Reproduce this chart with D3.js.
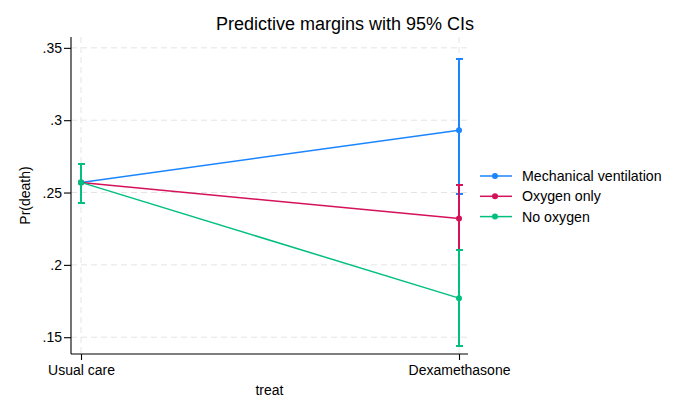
<!DOCTYPE html>
<html>
<head>
<meta charset="utf-8">
<script src="https://cdn.jsdelivr.net/npm/d3@7"></script>
<style>
  body { margin: 0; background: #fff; }
  text { font-family: "Liberation Sans", Arial, sans-serif; fill: #000; }
</style>
</head>
<body>
<div id="chart"></div>
<script>
// categories on the x axis
var treatments = ["Usual care", "Dexamethasone"];
var seriesNames = ["Mechanical ventilation", "Oxygen only", "No oxygen"];
var seriesColors = ["#1a85ff", "#d41159", "#00bf7f"];
// margins and 95% CIs, one row per series, one value per treatment
var margins = [[0.257, 0.293], [0.257, 0.232], [0.257, 0.177]];
var lower   = [[0.243, 0.249], [0.243, 0.210], [0.243, 0.144]];
var upper   = [[0.270, 0.342], [0.270, 0.255], [0.270, 0.210]];
var yTicks = [0.15, 0.2, 0.25, 0.3, 0.35];
var yTickLabels = [".15", ".2", ".25", ".3", ".35"];

var W = 690, H = 415;
var margin = {top: 37, right: 222, bottom: 61, left: 71},
    width = W - margin.left - margin.right,
    height = H - margin.top - margin.bottom;

var svg = d3.select("#chart").append("svg")
  .attr("width", W)
  .attr("height", H);

var g = svg.append("g")
  .attr("transform", "translate(" + margin.left + "," + margin.top + ")");

var x = d3.scalePoint()
  .domain(treatments)
  .range([10, width - 9]);

var y = d3.scaleLinear()
  .domain([0.1384, 0.3575])
  .range([height, 0]);

// grid
g.append("g").selectAll("line")
  .data(yTicks).enter().append("line")
  .attr("x1", 0).attr("x2", width)
  .attr("y1", function(d) { return y(d); })
  .attr("y2", function(d) { return y(d); })
  .attr("stroke", "#e4e4e4").attr("stroke-dasharray", "6,4");
g.append("g").selectAll("line")
  .data(treatments).enter().append("line")
  .attr("y1", 0).attr("y2", height)
  .attr("x1", function(d) { return x(d); })
  .attr("x2", function(d) { return x(d); })
  .attr("stroke", "#e4e4e4").attr("stroke-dasharray", "6,4");

// axes
var yAxis = d3.axisLeft(y).tickValues(yTicks)
  .tickFormat(function(d, i) { return yTickLabels[i]; })
  .tickSize(7).tickPadding(2);
var ya = g.append("g").call(yAxis);
ya.select(".domain").attr("d", "M0,0V" + height);
ya.selectAll("text").style("font-size", "14px");

var xAxis = d3.axisBottom(x).tickSize(6).tickPadding(5);
var xa = g.append("g").attr("transform", "translate(0," + height + ")").call(xAxis);
xa.select(".domain").attr("d", "M0,0H" + width);
xa.selectAll("text").style("font-size", "14px");

g.selectAll(".domain, .tick line").attr("stroke", "#000").attr("stroke-width", 1.1);

// series: CI bars, lines, markers
var line = d3.line()
  .x(function(d, i) { return x(treatments[i]); })
  .y(function(d) { return y(d); });

seriesNames.forEach(function(name, s) {
  var sg = g.append("g");
  var col = seriesColors[s];
  treatments.forEach(function(t, i) {
    var cx = x(t);
    sg.append("line")
      .attr("x1", cx).attr("x2", cx)
      .attr("y1", y(lower[s][i])).attr("y2", y(upper[s][i]))
      .attr("stroke", col).attr("stroke-width", 2)
      .attr("shape-rendering", "crispEdges");
    [lower[s][i], upper[s][i]].forEach(function(v) {
      sg.append("line")
        .attr("x1", cx - 3.5).attr("x2", cx + 3.5)
        .attr("y1", y(v)).attr("y2", y(v))
        .attr("stroke", col).attr("stroke-width", 2)
        .attr("shape-rendering", "crispEdges");
    });
  });
  sg.append("path")
    .attr("d", line(margins[s]))
    .attr("fill", "none").attr("stroke", col).attr("stroke-width", 1.5);
  sg.selectAll("circle")
    .data(margins[s]).enter().append("circle")
    .attr("cx", function(d, i) { return x(treatments[i]); })
    .attr("cy", function(d) { return y(d); })
    .attr("r", 3).attr("fill", col);
});

// legend
var legend = svg.append("g").attr("transform", "translate(480,176)");
seriesNames.forEach(function(name, s) {
  var lg = legend.append("g").attr("transform", "translate(0," + (s * 20.3) + ")");
  lg.append("line").attr("x1", 0).attr("x2", 32)
    .attr("stroke", seriesColors[s]).attr("stroke-width", 1.5);
  lg.append("circle").attr("cx", 15).attr("r", 3).attr("fill", seriesColors[s]);
  lg.append("text").attr("x", 42).attr("dy", "0.35em")
    .style("font-size", "14.2px").text(name);
});

// titles
svg.append("text").attr("x", 345).attr("y", 30)
  .attr("text-anchor", "middle").style("font-size", "18px")
  .text("Predictive margins with 95% CIs");
svg.append("text").attr("x", margin.left + width / 2).attr("y", 395)
  .attr("text-anchor", "middle").style("font-size", "14px").text("treat");
svg.append("text")
  .attr("transform", "translate(30," + (margin.top + height / 2) + ") rotate(-90)")
  .attr("text-anchor", "middle").style("font-size", "14px").text("Pr(death)");
</script>
</body>
</html>
